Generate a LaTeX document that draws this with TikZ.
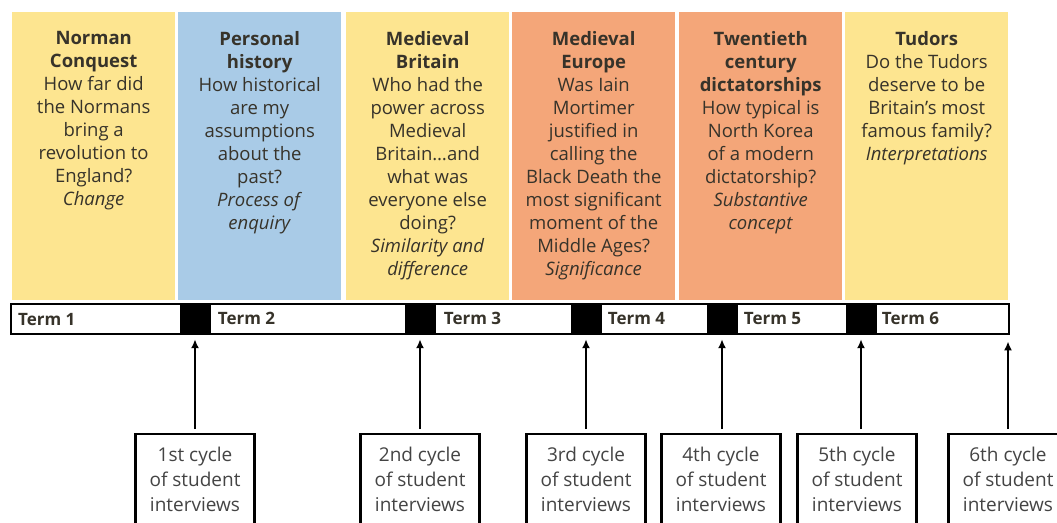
\documentclass[tikz,border=0pt]{standalone}
\usepackage{fontspec}
\setmainfont{Open Sans}
\usepackage{tikz}
\usetikzlibrary{arrows.meta,positioning}
\definecolor{topicyellow}{HTML}{FDE590}
\definecolor{topicblue}{HTML}{A9CBE7}
\definecolor{topicorange}{HTML}{F4A679}
\definecolor{inkdark}{HTML}{37332A}
\definecolor{inkgrey}{HTML}{444444}

\begin{document}
\begin{tikzpicture}[
        x=1pt, y=-1pt,
        topic/.style={minimum width=163pt, minimum height=288pt, anchor=north west, inner sep=0pt},
        topictext/.style={align=center, inner sep=0pt, text=inkdark, font=\fontsize{18.5}{23}\selectfont, execute at begin node=\strut},
        termbar/.style={draw, line width=2.4pt, fill=white, minimum width=998pt, minimum height=30pt, anchor=north west, inner sep=0pt},
        gap/.style={fill=black, minimum width=31pt, minimum height=30pt, inner sep=0pt},
        term/.style={inner sep=0pt, text height=12pt, text depth=0pt, font=\bfseries\fontsize{17}{19}\selectfont, text=inkdark},
        cycle/.style={draw, line width=2.4pt, fill=white, minimum width=119pt, minimum height=90pt, anchor=north, align=center, inner sep=0pt, text=inkgrey, font=\fontsize{19}{25}\selectfont},
        ->, >={Latex[length=9pt,width=8pt]}
      ]
      \useasboundingbox[fill=white] (0,0) rectangle (1057,522);

      % topic columns
      \node[topic, fill=topicyellow] (norman) at (12,12) {};
      \node[topic, fill=topicblue] (personal) at (178,12) {};
      \node[topic, fill=topicyellow] (britain) at (346,12) {};
      \node[topic, fill=topicorange] (europe) at (512,12) {};
      \node[topic, fill=topicorange] (twentieth) at (679,12) {};
      \node[topic, fill=topicyellow] (tudors) at (845,12) {};

      \node[topictext, below=19pt of norman.north] (normantxt) {\textbf{Norman}\\\textbf{Conquest}\\How far did\\the Normans\\bring a\\revolution to\\England?\\\textit{Change}};
      \node[topictext, below=19pt of personal.north] (personaltxt) {\textbf{Personal}\\\textbf{history}\\How historical\\are my\\assumptions\\about the\\past?\\\textit{Process of}\\\textit{enquiry}};
      \node[topictext, below=19pt of britain.north] (britaintxt) {\textbf{Medieval}\\\textbf{Britain}\\Who had the\\power across\\Medieval\\Britain…and\\what was\\everyone else\\doing?\\\textit{Similarity and}\\\textit{difference}};
      \node[topictext, below=19pt of europe.north] (europetxt) {\textbf{Medieval}\\\textbf{Europe}\\Was Iain\\Mortimer\\justified in\\calling the\\Black Death the\\most significant\\moment of the\\Middle Ages?\\\textit{Significance}};
      \node[topictext, below=19pt of twentieth.north] (twentiethtxt) {\textbf{Twentieth}\\\textbf{century}\\\textbf{dictatorships}\\How typical is\\North Korea\\of a modern\\dictatorship?\\\textit{Substantive}\\\textit{concept}};
      \node[topictext, below=19pt of tudors.north] (tudorstxt) {\textbf{Tudors}\\Do the Tudors\\deserve to be\\Britain’s most\\famous family?\\\textit{Interpretations}};

      % timeline
      \node[termbar] (bar) at (10,303) {};
      \node[gap] (g1) at (195,318) {};
      \node[gap] (g2) at (420,318) {};
      \node[gap] (g3) at (586,318) {};
      \node[gap] (g4) at (722,318) {};
      \node[gap] (g5) at (861,318) {};

      \node[term, right=8pt of bar.west] (term1) {Term 1};
      \node[term, right=7pt of g1.east] (term2) {Term 2};
      \node[term, right=8pt of g2.east] (term3) {Term 3};
      \node[term, right=6pt of g3.east] (term4) {Term 4};
      \node[term, right=6pt of g4.east] (term5) {Term 5};
      \node[term, right=5pt of g5.east] (term6) {Term 6};

      % interview cycles
      \node[cycle] (c1) at (195,433) {1st cycle\\of student\\interviews};
      \node[cycle] (c2) at (420,433) {2nd cycle\\of student\\interviews};
      \node[cycle] (c3) at (586,433) {3rd cycle\\of student\\interviews};
      \node[cycle] (c4) at (721,433) {4th cycle\\of student\\interviews};
      \node[cycle] (c5) at (857,433) {5th cycle\\of student\\interviews};
      \node[cycle] (c6) at (1008,433) {6th cycle\\of student\\interviews};

      \draw[line width=2.5pt, shorten >=6pt, shorten <=4pt] (c1.north) -- (g1.south);
      \draw[line width=2.5pt, shorten >=6pt, shorten <=4pt] (c2.north) -- (g2.south);
      \draw[line width=2.5pt, shorten >=6pt, shorten <=4pt] (c3.north) -- (g3.south);
      \draw[line width=2.5pt, shorten >=6pt, shorten <=4pt] (c4.north -| g4.south) -- (g4.south);
      \draw[line width=2.5pt, shorten >=6pt, shorten <=4pt] (c5.north -| g5.south) -- (g5.south);
      \draw[line width=2.5pt, shorten >=6pt, shorten <=4pt] (c6.north) -- (c6.north |- bar.south);

    \end{tikzpicture}
\end{document}
